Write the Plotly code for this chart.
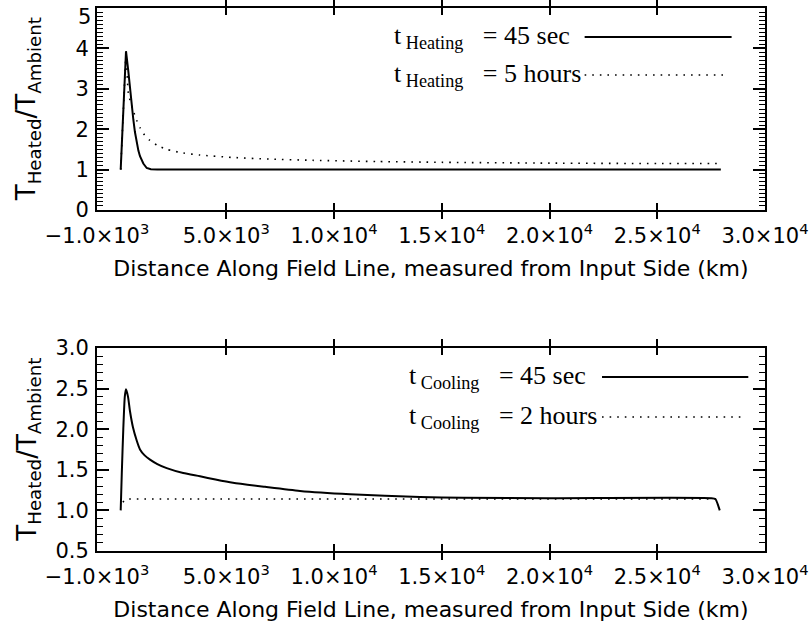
import plotly.graph_objects as go

# Heating run: temperature ratio along the field line (km)
heat_short_x = [100, 200, 290, 346, 450, 530, 610, 685, 760, 842, 920, 995, 1150, 1306, 1500, 1800, 2500, 10000, 20000, 27950]
heat_short_y = [1.0, 2.2, 3.25, 3.93, 3.45, 2.98, 2.58, 2.24, 1.93, 1.66, 1.47, 1.33, 1.15, 1.04, 1.01, 1.0, 1.0, 1.0, 1.0, 1.0]

heat_long_x = [100, 200, 290, 346, 452, 560, 685, 840, 995, 1200, 1460, 1800, 2234, 3000, 3780, 5310, 7000, 9000, 12000, 15000, 20000, 25000, 27950]
heat_long_y = [1.0, 2.2, 3.25, 3.85, 2.9, 2.66, 2.45, 2.22, 2.04, 1.86, 1.72, 1.6, 1.5, 1.41, 1.36, 1.3, 1.26, 1.23, 1.2, 1.18, 1.16, 1.15, 1.15]

# Cooling run
cool_short_x = [100, 150, 220, 290, 346, 438, 531, 671, 842, 995, 1200, 1460, 1800, 2234, 3000, 3780, 4500, 5310, 6800, 8420, 10740, 13990, 16000, 20000, 27500, 27700, 27800, 27900]
cool_short_y = [1.0, 1.45, 2.0, 2.4, 2.49, 2.40, 2.22, 2.02, 1.86, 1.75, 1.68, 1.625, 1.57, 1.52, 1.46, 1.42, 1.38, 1.34, 1.29, 1.24, 1.20, 1.165, 1.155, 1.15, 1.15, 1.14, 1.08, 1.0]

cool_long_x = [200, 300, 400, 5000, 10000, 20000, 27950]
cool_long_y = [1.10, 1.13, 1.14, 1.14, 1.14, 1.14, 1.14]

x_tickvals = [-1000, 5000, 10000, 15000, 20000, 25000, 30000]
x_ticktext = ["\u22121.0\u00d710<sup>3</sup>", "5.0\u00d710<sup>3</sup>", "1.0\u00d710<sup>4</sup>",
              "1.5\u00d710<sup>4</sup>", "2.0\u00d710<sup>4</sup>", "2.5\u00d710<sup>4</sup>",
              "3.0\u00d710<sup>4</sup>"]
top_ytickvals = [0, 1, 2, 3, 4]
top_ytop_label = "5"
bot_ytickvals = [0.5, 1.0, 1.5, 2.0, 2.5, 3.0]

SANS = "DejaVu Sans"
SERIF = "Liberation Serif"
TICKFONT = dict(family=SANS, size=21, color="black")
X_TITLE = "Distance Along Field Line, measured from Input Side (km)"
Y_TITLE = "T<sub>Heated</sub>/T<sub>Ambient</sub>"

TOP_DOMAIN = [0.628, 1.0]
BOT_DOMAIN = [0.0, 0.374]

fig = go.Figure()

solid = dict(color="black", width=2)
dotted = dict(color="black", width=1.6, dash="1.6px,6px")

fig.add_trace(go.Scatter(x=heat_short_x, y=heat_short_y, mode="lines", line=solid, xaxis="x", yaxis="y"))
fig.add_trace(go.Scatter(x=heat_long_x, y=heat_long_y, mode="lines", line=dict(dotted, shape="spline", smoothing=0.6),
                         xaxis="x", yaxis="y"))
fig.add_trace(go.Scatter(x=cool_short_x, y=cool_short_y, mode="lines", line=dict(solid, shape="spline", smoothing=0.6),
                         xaxis="x2", yaxis="y2"))
fig.add_trace(go.Scatter(x=cool_long_x, y=cool_long_y, mode="lines", line=dotted, xaxis="x2", yaxis="y2"))
# empty traces so the tick-only companion axes get drawn
fig.add_trace(go.Scatter(x=[], y=[], mode="lines", xaxis="x", yaxis="y3", hoverinfo="skip"))
fig.add_trace(go.Scatter(x=[], y=[], mode="lines", xaxis="x2", yaxis="y4", hoverinfo="skip"))

def xaxis(anchor):
    return dict(
        range=[-1000, 30000], anchor=anchor, automargin=False,
        tickmode="array", tickvals=x_tickvals, ticktext=x_ticktext,
        ticks="inside", ticklen=7, tickwidth=1.5, tickcolor="black", ticklabelstandoff=6,
        showline=True, linecolor="black", linewidth=2, mirror="allticks",
        showgrid=False, zeroline=False, tickfont=TICKFONT,
        title=dict(text=X_TITLE, font=dict(family=SANS, size=22, color="black"), standoff=13),
    )

def yaxis(rng, vals, labels, domain, anchor):
    return dict(
        range=rng, domain=domain, anchor=anchor, automargin=False,
        tickmode="array", tickvals=vals, ticktext=labels,
        ticks="inside", ticklen=12, tickwidth=1.5, tickcolor="black", ticklabelstandoff=2,
        showline=True, linecolor="black", linewidth=2, mirror="allticks",
        showgrid=False, zeroline=False, tickfont=TICKFONT,
    )

def minor_yaxis(rng, over, anchor):
    # tick-only companion axis carrying the 0.1 minor ticks on both sides
    return dict(
        range=rng, overlaying=over, anchor=anchor, automargin=False,
        tickmode="linear", tick0=rng[0], dtick=0.1,
        ticks="inside", ticklen=6, tickwidth=1.2, tickcolor="black",
        showticklabels=False, showline=False, mirror="allticks",
        showgrid=False, zeroline=False,
    )

fig.update_layout(
    width=812, height=625,
    margin=dict(l=97, r=47, t=8, b=74),
    paper_bgcolor="white", plot_bgcolor="white",
    showlegend=False,
    xaxis=xaxis("y"),
    yaxis=yaxis([0, 5], top_ytickvals, [str(v) for v in top_ytickvals], TOP_DOMAIN, "x"),
    xaxis2=xaxis("y2"),
    yaxis2=yaxis([0.5, 3.0], bot_ytickvals, [f"{v:.1f}" for v in bot_ytickvals], BOT_DOMAIN, "x2"),
    yaxis3=minor_yaxis([0, 5], "y", "x"),
    yaxis4=minor_yaxis([0.5, 3.0], "y2", "x2"),
)

# top label of the upper panel, nudged inside the page
fig.add_annotation(xref="paper", yref="y", x=-0.006, y=5, yshift=-9, text=top_ytop_label,
                   showarrow=False, xanchor="right", yanchor="middle", font=TICKFONT)

# Rotated y-axis titles
for dom in (TOP_DOMAIN, BOT_DOMAIN):
    fig.add_annotation(xref="paper", yref="paper", x=-0.103, y=(dom[0] + dom[1]) / 2,
                       text=Y_TITLE, textangle=-90, showarrow=False,
                       xanchor="center", yanchor="middle",
                       font=dict(family=SANS, size=26, color="black"))

# Key: text on the left, line sample on the right
legend_rows = [
    ("x domain", "y domain", 0.442, 0.856, "t<sub> Heating</sub>   = 45 sec", 0.73, 0.95, "solid"),
    ("x domain", "y domain", 0.442, 0.668, "t<sub> Heating</sub>   = 5 hours", 0.73, 0.94, "dot"),
    ("x2 domain", "y2 domain", 0.464, 0.857, "t<sub> Cooling</sub>   = 45 sec", 0.756, 0.975, "solid"),
    ("x2 domain", "y2 domain", 0.464, 0.66, "t<sub> Cooling</sub>   = 2 hours", 0.756, 0.966, "dot"),
]
for xr, yr, tx, ty, text, x0, x1, style in legend_rows:
    fig.add_annotation(xref=xr, yref=yr, x=tx, y=ty, text=text, showarrow=False,
                       xanchor="left", yanchor="middle",
                       font=dict(family=SERIF, size=26, color="black"))
    fig.add_shape(type="line", xref=xr, yref=yr, x0=x0, x1=x1, y0=ty, y1=ty,
                  line=solid if style == "solid" else dotted)

fig.write_html("out.html")
